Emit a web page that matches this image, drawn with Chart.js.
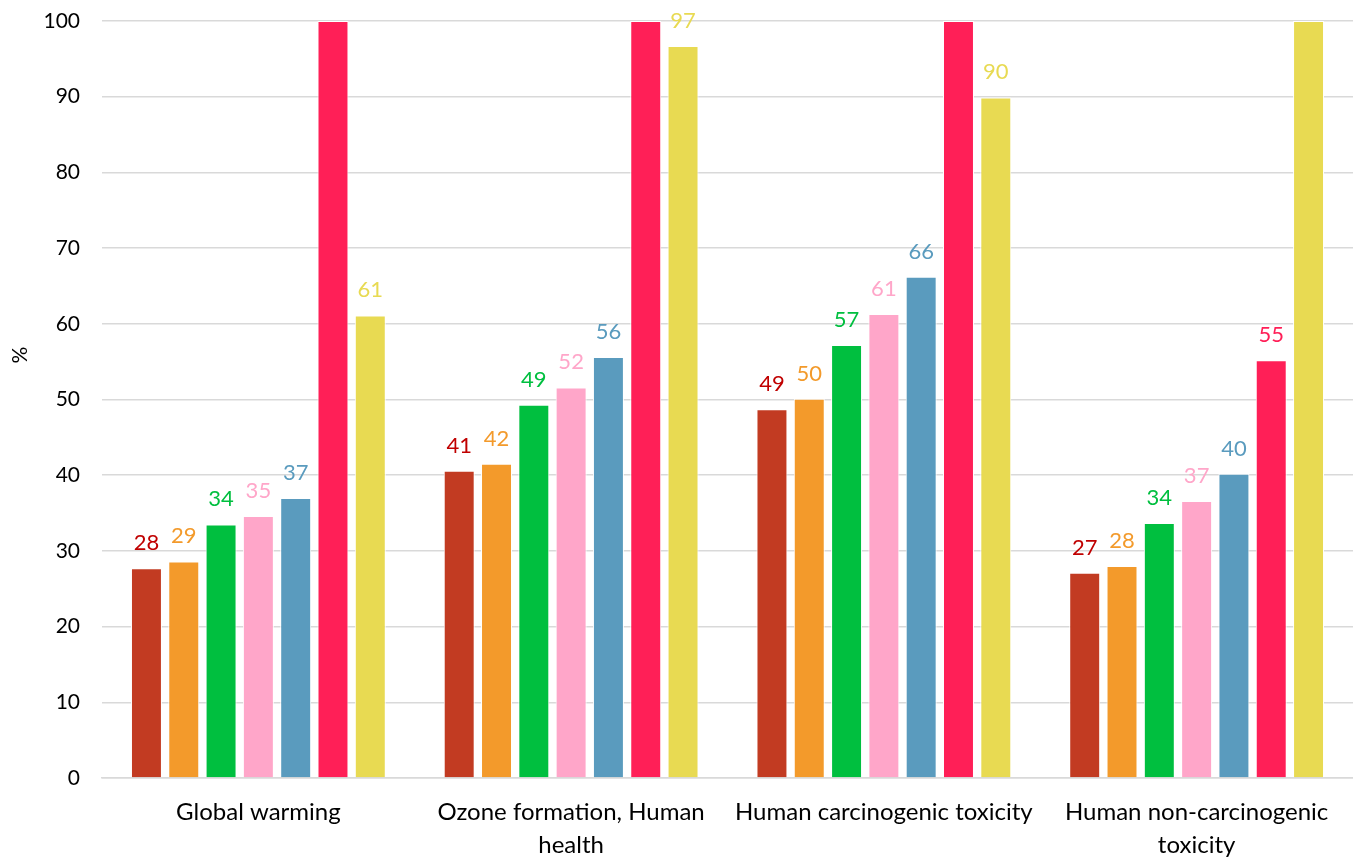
<!DOCTYPE html>
<html>
<head>
<meta charset="utf-8">
<script src="https://cdn.jsdelivr.net/npm/chart.js@4/dist/chart.umd.min.js"></script>
<style>
  html, body { margin: 0; padding: 0; background: #ffffff; overflow: hidden; }
  canvas { display: block; }
</style>
</head>
<body>
<canvas id="chart" width="1353" height="858"></canvas>
<script>
// Impact categories on the x axis (multi-line where the label wraps)
const categories = [
  ["Global warming"],
  ["Ozone formation, Human", "health"],
  ["Human carcinogenic toxicity"],
  ["Human non-carcinogenic", "toxicity"]
];

// Relative impact (%) for each scenario, one value per category
const series1 = [27.7, 40.6, 48.7, 27.1];
const series2 = [28.6, 41.5, 50.1, 28.0];
const series3 = [33.5, 49.3, 57.2, 33.7];
const series4 = [34.6, 51.6, 61.3, 36.6];
const series5 = [37.0, 55.6, 66.2, 40.2];
const series6 = [100, 100, 100, 55.2];
const series7 = [61.1, 96.7, 89.9, 100];

const yTicks = [0, 10, 20, 30, 40, 50, 60, 70, 80, 90, 100];
const yTitle = "%";

const barColors   = ["#C23B22", "#F39A2B", "#00BF3F", "#FFA6C9", "#5A9BBE", "#FF1F57", "#E8DA52"];
const labelColors = ["#C00000", "#F39A2B", "#00BF3F", "#FFA6C9", "#5A9BBE", "#FF1F57", "#E8DA52"];
const allSeries = [series1, series2, series3, series4, series5, series6, series7];

const FONT = "Lato, 'Open Sans', sans-serif";

// Value labels above each bar; bars at the 100 ceiling carry none
const valueLabels = {
  id: "valueLabels",
  afterDatasetsDraw(chart) {
    const ctx = chart.ctx;
    ctx.save();
    ctx.font = "22px " + FONT;
    ctx.textAlign = "center";
    ctx.textBaseline = "alphabetic";
    chart.data.datasets.forEach((ds, i) => {
      const meta = chart.getDatasetMeta(i);
      meta.data.forEach((bar, j) => {
        const v = ds.data[j];
        if (v >= 99.5) return;
        ctx.fillStyle = labelColors[i];
        ctx.fillText(String(Math.round(v)), bar.x, Math.max(bar.y - 18, 26));
      });
    });
    ctx.restore();
  }
};

// Rotated y-axis title placed beside the tick labels
const axisTitle = {
  id: "axisTitle",
  afterDraw(chart) {
    const ctx = chart.ctx;
    ctx.save();
    ctx.font = "21px " + FONT;
    ctx.fillStyle = "#000000";
    ctx.textAlign = "center";
    ctx.textBaseline = "middle";
    ctx.translate(20, 355);
    ctx.rotate(-Math.PI / 2);
    ctx.fillText(yTitle, 0, 0);
    ctx.restore();
  }
};

new Chart(document.getElementById("chart"), {
  type: "bar",
  data: {
    labels: categories,
    datasets: allSeries.map((d, i) => ({
      label: "Series " + (i + 1),
      data: d,
      backgroundColor: barColors[i],
      borderColor: "#ffffff",
      borderWidth: 1,
      categoryPercentage: 0.835,
      barPercentage: 0.83
    }))
  },
  options: {
    responsive: false,
    animation: false,
    devicePixelRatio: 1,
    layout: { padding: { top: 21, right: 0, bottom: 0, left: 0 } },
    plugins: {
      legend: { display: false },
      tooltip: { enabled: false }
    },
    scales: {
      x: {
        grid: { display: false, drawTicks: false },
        border: { display: true, color: "#d9d9d9", width: 1.5 },
        ticks: {
          color: "#000000",
          font: { family: FONT, size: 24, lineHeight: 1.375 },
          padding: 18,
          maxRotation: 0,
          autoSkip: false
        },
        afterFit(scale) { scale.height = 80; scale.paddingTop = 0; }
      },
      y: {
        min: 0,
        max: 100,
        afterBuildTicks(scale) { scale.ticks = yTicks.map(v => ({ value: v })); },
        grid: { color: "#d9d9d9", lineWidth: 1.5, drawTicks: false },
        border: { display: false },
        ticks: {
          color: "#000000",
          font: { family: FONT, size: 21 },
          padding: 22
        },
        afterFit(scale) { scale.width = 102; scale.paddingTop = 0; }
      }
    }
  },
  plugins: [valueLabels, axisTitle]
});
</script>
</body>
</html>
